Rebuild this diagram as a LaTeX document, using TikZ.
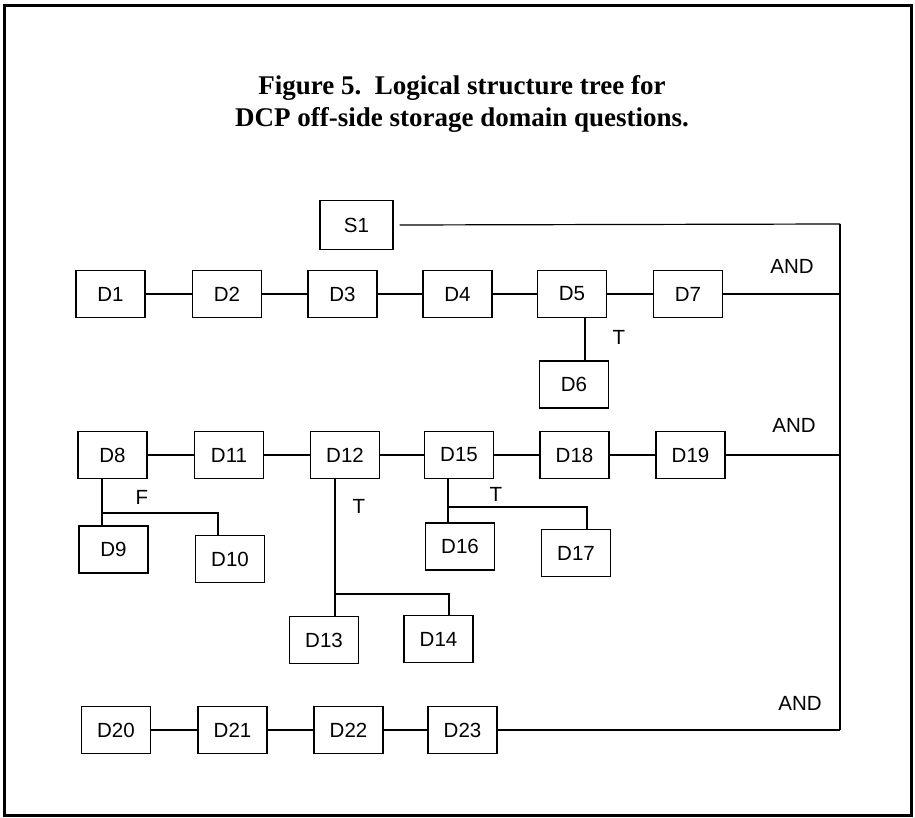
\documentclass[tikz,border=0pt]{standalone}
\usepackage{fontspec}
\setmainfont{Liberation Serif}
\newfontfamily\helv{Liberation Sans}
\usepackage{tikz}
\usetikzlibrary{calc}

\begin{document}
\begin{tikzpicture}[x=1pt,y=-1pt,
  qbox/.style={draw,line width=1.1pt,minimum width=69pt,minimum height=47pt,inner sep=0pt,font=\helv\fontsize{20.5}{22}\selectfont},
  lab/.style={font=\helv\fontsize{20.5}{22}\selectfont,inner sep=0pt},
  heading/.style={anchor=base,font=\bfseries\fontsize{27}{32}\selectfont,inner sep=0pt},
  link/.style={line width=1.2pt},
  bus/.style={line width=2.2pt}]
  \useasboundingbox (0,0) rectangle (915,818);
  \draw[line width=3pt] (4.5,5.5) rectangle (911.5,815.5);
  % title
  \node[heading] (title1) at (462,95) {Figure 5.\ \ Logical structure tree for};
  \node[heading] (title2) at (462,127) {DCP off-side storage domain questions.};
  % first row
  \node[qbox,minimum width=73pt,minimum height=49pt] (S1) at (356.5,225) {S1};
  \foreach \n/\x in {1/110.5,2/227,3/342.5,4/457.5,5/572,7/688}
    \node[qbox] (D\n) at (\x,294) {D\n};
  \node[qbox] (D6) at (574,384.5) {D6};
  \draw[link] (D1) -- (D2) -- (D3) -- (D4) -- (D5) -- (D7);
  \draw[link] ([xshift=13]D5.south) -- ([xshift=13]D5.south |- D6.north);
  \node[lab] (t5) at (619,337) {T};
  \node[lab] (and1) at (792,266) {AND};
  % second row
  \foreach \n/\x in {8/112.5,11/229,12/345,15/459,18/574.5,19/690.5}
    \node[qbox] (D\n) at (\x,455) {D\n};
  \node[qbox] (D9) at (113.5,549.5) {D9};
  \node[qbox] (D10) at (230,559) {D10};
  \node[qbox] (D13) at (324,640) {D13};
  \node[qbox] (D14) at (438.5,639) {D14};
  \node[qbox] (D16) at (460,546.5) {D16};
  \node[qbox] (D17) at (576,553) {D17};
  \draw[link] (D8) -- (D11) -- (D12) -- (D15) -- (D18) -- (D19);
  \coordinate (fork8) at (102,513);
  \coordinate (fork12) at (335,594);
  \coordinate (fork15) at (448,507);
  \draw[link] (D8.south -| fork8) -- (D9.north -| fork8);
  \draw[link] (fork8) -| ([xshift=-12]D10.north);
  \draw[link] (D12.south -| fork12) -- (D13.north -| fork12);
  \draw[link] (fork12) -| ([xshift=10.5]D14.north);
  \draw[link] (D15.south -| fork15) -- (D16.north -| fork15);
  \draw[link] (fork15) -| ([xshift=11]D17.north);
  \node[lab] (f8) at (142,497) {F};
  \node[lab] (t12) at (359,506) {T};
  \node[lab] (t15) at (496,494) {T};
  \node[lab] (and2) at (794,425) {AND};
  % third row
  \foreach \n/\x in {20/116,21/232.5,22/348.5,23/462.5}
    \node[qbox] (D\n) at (\x,730) {D\n};
  \draw[link] (D20) -- (D21) -- (D22) -- (D23);
  \node[lab] (and3) at (800,703) {AND};
  % bus on the right
  \coordinate (busTop) at (840,224);
  \coordinate (busBot) at (840,730);
  \draw[link] ([xshift=6]S1.east) -- (busTop);
  \draw[link] (D7.east) -- (D7.east -| busTop);
  \draw[link] (D19.east) -- (D19.east -| busTop);
  \draw[link] (D23.east) -- (busBot);
  \draw[bus] (busTop) -- (busBot);
\end{tikzpicture}
\end{document}
